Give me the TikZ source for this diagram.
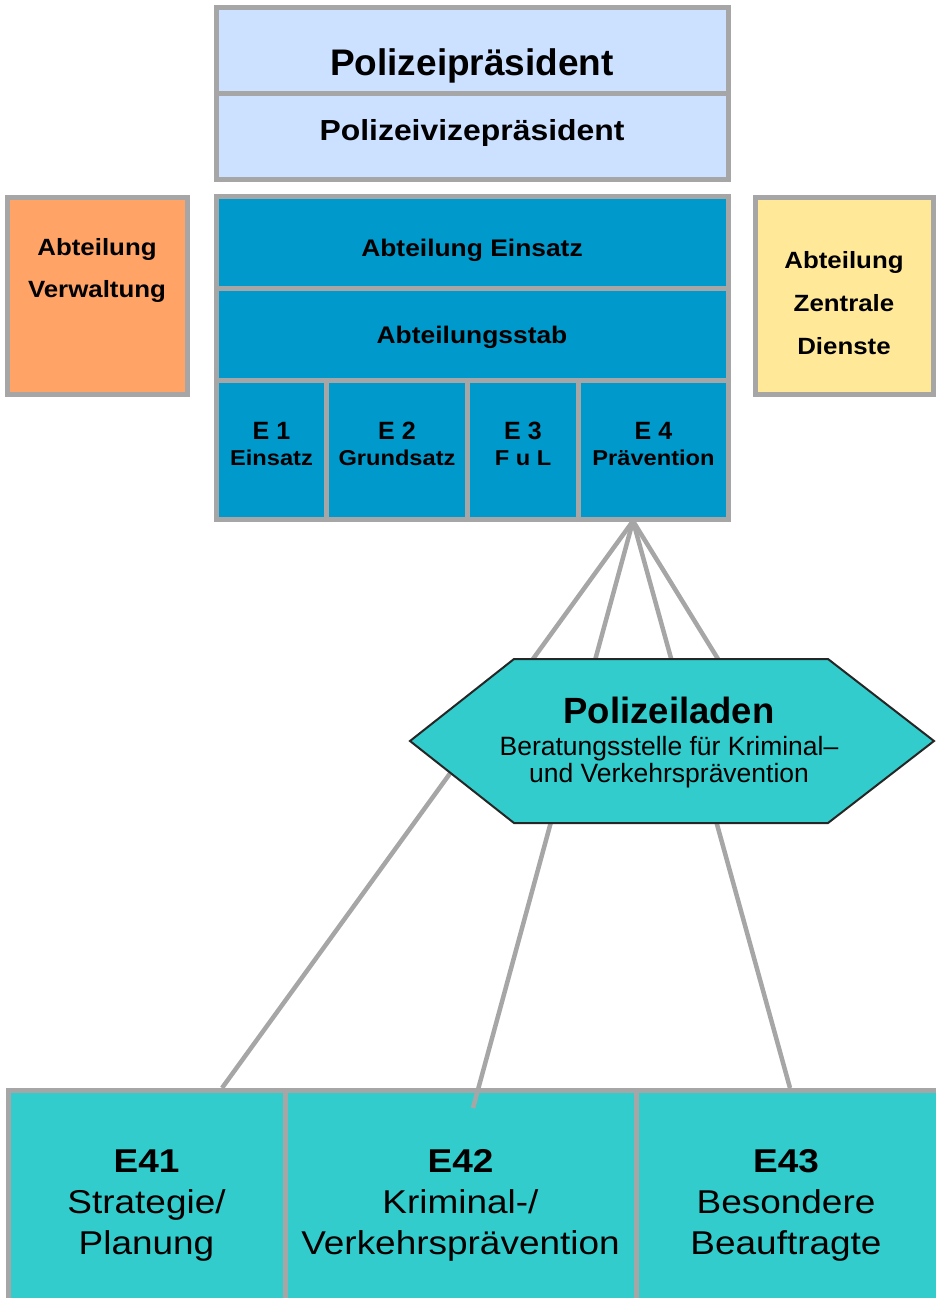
\documentclass[tikz,border=0pt]{standalone}
\usepackage{fontspec}
\setmainfont{Liberation Sans}
\newfontfamily\fN{Liberation Sans}
\newfontfamily\fS{Liberation Sans}[FakeStretch=1.1]
\newfontfamily\fW{Liberation Sans}[FakeStretch=1.12]
\usetikzlibrary{calc}
\definecolor{lblue}{HTML}{CCE0FF}
\definecolor{eblue}{HTML}{0099CC}
\definecolor{orng}{HTML}{FFA366}
\definecolor{yell}{HTML}{FFE999}
\definecolor{tealc}{HTML}{33CCCC}
\definecolor{bord}{HTML}{A6A6A6}
\begin{document}
\begin{tikzpicture}[x=1pt,y=-1pt,
  box/.style={draw=bord, line width=5pt, inner sep=0pt, outer sep=0pt},
  conn/.style={draw=bord, line width=4.5pt},
  txt/.style={inner sep=0pt, outer sep=0pt, anchor=base, align=center, text=black}]
\clip (0,0) rectangle (936,1298);
% top box
\node[box, fill=lblue, minimum width=512pt, minimum height=85.5pt] (PP) at (472.5,50.25) {};
\node[box, fill=lblue, minimum width=512pt, minimum height=86pt] (PV) at (472.5,136) {};
% blue block
\node[box, fill=eblue, minimum width=512pt, minimum height=92pt] (AE) at (472.5,242.5) {};
\node[box, fill=eblue, minimum width=512pt, minimum height=91.5pt] (AS) at (472.5,334.25) {};
\node[box, fill=eblue, minimum width=110pt, minimum height=139.5pt] (E1) at (271.5,449.75) {};
\node[box, fill=eblue, minimum width=141pt, minimum height=139.5pt] (E2) at (397,449.75) {};
\node[box, fill=eblue, minimum width=111pt, minimum height=139.5pt] (E3) at (523,449.75) {};
\node[box, fill=eblue, minimum width=150pt, minimum height=139.5pt] (E4) at (653.5,449.75) {};
% side boxes
\node[box, fill=orng, minimum width=179.5pt, minimum height=197.5pt] (AV) at (97.25,295.75) {};
\node[box, fill=yell, minimum width=178.5pt, minimum height=197.5pt] (AZ) at (844.25,295.75) {};
% bottom boxes
\node[box, fill=tealc, minimum width=277pt, minimum height=230pt] (E41) at (146.5,1205) {};
\node[box, fill=tealc, minimum width=351pt, minimum height=230pt] (E42) at (460.5,1205) {};
\node[box, fill=tealc, minimum width=309pt, minimum height=230pt] (E43) at (790.5,1205) {};
% connectors
\coordinate (e4o) at (633,521);
\coordinate (t41) at (222,1088);
\coordinate (t42) at (473,1108);
\coordinate (t43) at (790,1088);
\coordinate (thx) at (718,659);
\draw[conn] (e4o) -- (t41);
\draw[conn] (e4o) -- (t42);
\draw[conn] (e4o) -- (t43);
\draw[conn] (e4o) -- (thx);
% hexagon
\coordinate (hL) at (410,741);
\coordinate (hTL) at (514,659);
\coordinate (hTR) at (828,659);
\coordinate (hR) at (934,741);
\coordinate (hBR) at (828,823);
\coordinate (hBL) at (514,823);
\draw[fill=tealc, draw=black!85, line width=2pt, line join=miter] (hL) -- (hTL) -- (hTR) -- (hR) -- (hBR) -- (hBL) -- cycle;
% texts
\node[txt, font=\fN\bfseries\fontsize{37}{44}\selectfont] (PPt) at (472,75) {Polizeipräsident};
\node[txt, font=\fS\bfseries\fontsize{29}{34}\selectfont] (PVt) at (472,140) {Polizeivizepräsident};
\node[txt, font=\fS\bfseries\fontsize{24}{29}\selectfont] (AEt) at (472,256) {Abteilung Einsatz};
\node[txt, font=\fS\bfseries\fontsize{24}{29}\selectfont] (ASt) at (472,343) {Abteilungsstab};
\node[txt, font=\fS\bfseries\fontsize{23.5}{42}\selectfont] (AVt) at (97,297) {Abteilung\\Verwaltung};
\node[txt, font=\fS\bfseries\fontsize{23.5}{43}\selectfont] (AZt) at (844,354) {Abteilung\\Zentrale\\Dienste};
\node[txt, font=\fN\bfseries\fontsize{25}{26}\selectfont] (E1t) at (271.5,465) {E 1\\{\fS\fontsize{21.5}{26}\selectfont Einsatz}};
\node[txt, font=\fN\bfseries\fontsize{25}{26}\selectfont] (E2t) at (397,465) {E 2\\{\fS\fontsize{21.5}{26}\selectfont Grundsatz}};
\node[txt, font=\fN\bfseries\fontsize{25}{26}\selectfont] (E3t) at (523,465) {E 3\\{\fS\fontsize{21.5}{26}\selectfont F u L}};
\node[txt, font=\fN\bfseries\fontsize{25}{26}\selectfont] (E4t) at (653.5,465) {E 4\\{\fS\fontsize{21.5}{26}\selectfont Prävention}};
\node[txt, font=\fN\fontsize{26.5}{32}\selectfont] (PLt) at (669,782) {{\bfseries\fontsize{36.5}{32}\selectfont Polizeiladen}\\Beratungsstelle für Kriminal–\\[-5pt]und Verkehrsprävention};
\node[txt, font=\fW\fontsize{33}{41}\selectfont] (E41t) at (146.5,1254) {{\bfseries E41}\\Strategie/\\Planung};
\node[txt, font=\fW\fontsize{33}{41}\selectfont] (E42t) at (460.5,1254) {{\bfseries E42}\\Kriminal-/\\Verkehrsprävention};
\node[txt, font=\fW\fontsize{33}{41}\selectfont] (E43t) at (786,1254) {{\bfseries E43}\\Besondere\\Beauftragte};
\end{tikzpicture}
\end{document}
